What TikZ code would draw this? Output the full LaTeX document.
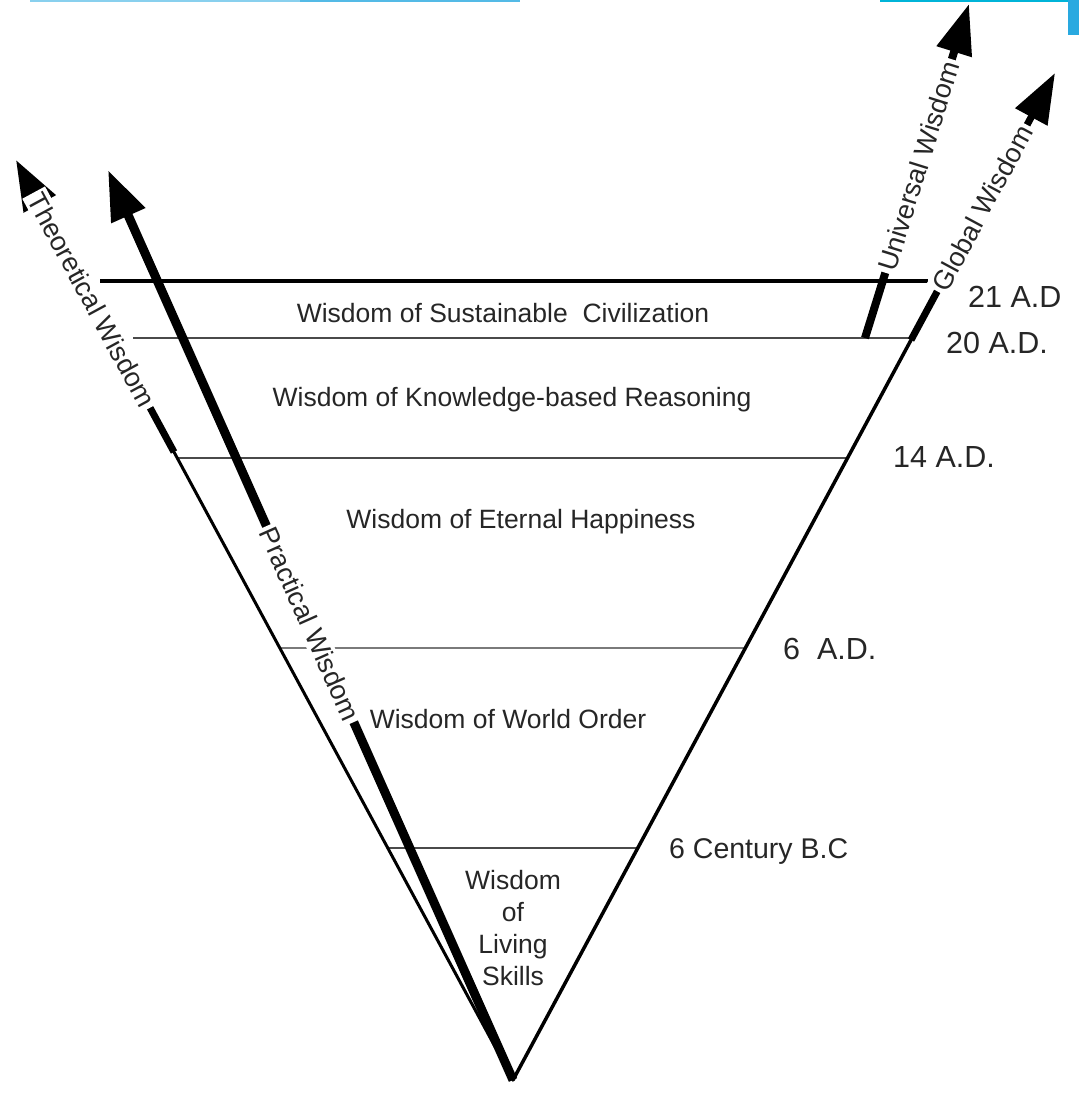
\documentclass[tikz,border=0pt]{standalone}
\usepackage{fontspec}
\setmainfont{Liberation Sans}
\usetikzlibrary{arrows.meta}
\definecolor{textgray}{HTML}{262626}
\definecolor{linegray}{HTML}{4a4a4a}
\definecolor{lightline}{HTML}{7a7a7a}
\definecolor{slideblue}{HTML}{29a9e0}
\definecolor{slidecyan}{HTML}{00b4d8}
\begin{document}
\begin{tikzpicture}[x=1pt,y=-1pt,
  inlbl/.style={text=textgray, font=\fontsize{26.5}{32.3}\selectfont, inner sep=0pt},
  datelbl/.style={text=textgray, font=\fontsize{30.5}{32}\selectfont, anchor=base west, inner sep=0pt},
  sidelbl/.style={text=textgray, font=\fontsize{27}{30}\selectfont, fill=white, inner sep=3pt, sloped},
  era/.style={line width=2.2pt, draw=linegray},
  bigtip/.style={-{Triangle[length=50pt,width=35pt]}},
]
\useasboundingbox[fill=white] (0,0) rectangle (1079,1094);
% slide decoration at the top edge
\fill[slideblue!55] (30,0) rectangle (300,2);
\fill[slideblue!80] (300,0) rectangle (520,2);
\fill[slidecyan] (880,0) rectangle (1079,2);
\fill[slideblue] (1068,0) rectangle (1079,35);

% key points
\coordinate (apex) at (513,1080);
\coordinate (ttip) at (16,160);
\coordinate (t14)  at (174,452);
\coordinate (ptip) at (108,170);
\coordinate (gtip) at (1055,73);
\coordinate (g20)  at (911,340);
\coordinate (utip) at (969,4);
\coordinate (u20)  at (865,338);

% era boundaries
\coordinate (l21) at (100,281);  \coordinate (r21) at (928,281);
\coordinate (l20) at (133,338);  \coordinate (r20) at (911,338);
\coordinate (l14) at (177,458);  \coordinate (r14) at (848,458);
\coordinate (l6)  at (280,648);  \coordinate (r6)  at (746,648);
\coordinate (lbc) at (388,848);  \coordinate (rbc) at (638,848);
\draw[line width=4.5pt, draw=black] (l21) -- (r21);
\draw[era] (l20) -- (r20);
\draw[era] (l14) -- (r14);
\draw[era, draw=lightline] (l6) -- (r6);
\draw[era] (lbc) -- (rbc);

% wisdom arrows
\draw[line width=9pt, bigtip] (apex) -- (ptip);
\draw[line width=7pt, bigtip] (t14) -- (ttip);
\draw[line width=7pt, bigtip] (g20) -- (gtip);
\draw[line width=8pt, bigtip] (u20) -- (utip);

% arrow labels
\path (t14) -- (ttip) node[sidelbl, pos=0.52] (thlbl) {Theoretical Wisdom};
\path (apex) -- (ptip) node[sidelbl, pos=0.501] (prlbl) {Practical Wisdom};
\path (u20) -- (utip) node[sidelbl, pos=0.515] (unlbl) {Universal Wisdom};
\path (g20) -- (gtip) node[sidelbl, pos=0.494] (gllbl) {Global Wisdom};

% triangle sides
\draw[line width=3pt, line cap=round] (apex) -- (t14);
\draw[line width=3.5pt, line cap=round] (apex) -- (g20);

% era labels
\node[inlbl, anchor=base] (sus) at (503,322) {Wisdom of Sustainable~~Civilization};
\node[inlbl, anchor=base] (kno) at (512,406) {Wisdom of Knowledge-based Reasoning};
\node[inlbl, anchor=base] (ete) at (521,528) {Wisdom of Eternal Happiness};
\node[inlbl, anchor=base] (wor) at (508,728) {Wisdom of World Order};
\node[inlbl, align=center] (liv) at (513,928) {Wisdom\\of\\Living\\Skills};

% dates
\node[datelbl] (d21) at (968,307) {21 A.D};
\node[datelbl] (d20) at (946,353) {20 A.D.};
\node[datelbl] (d14) at (893,467) {14 A.D.};
\node[datelbl] (d6)  at (783,659) {6~~A.D.};
\node[datelbl, font=\fontsize{28.5}{32}\selectfont] (dbc) at (669,858) {6 Century B.C};
\end{tikzpicture}
\end{document}
